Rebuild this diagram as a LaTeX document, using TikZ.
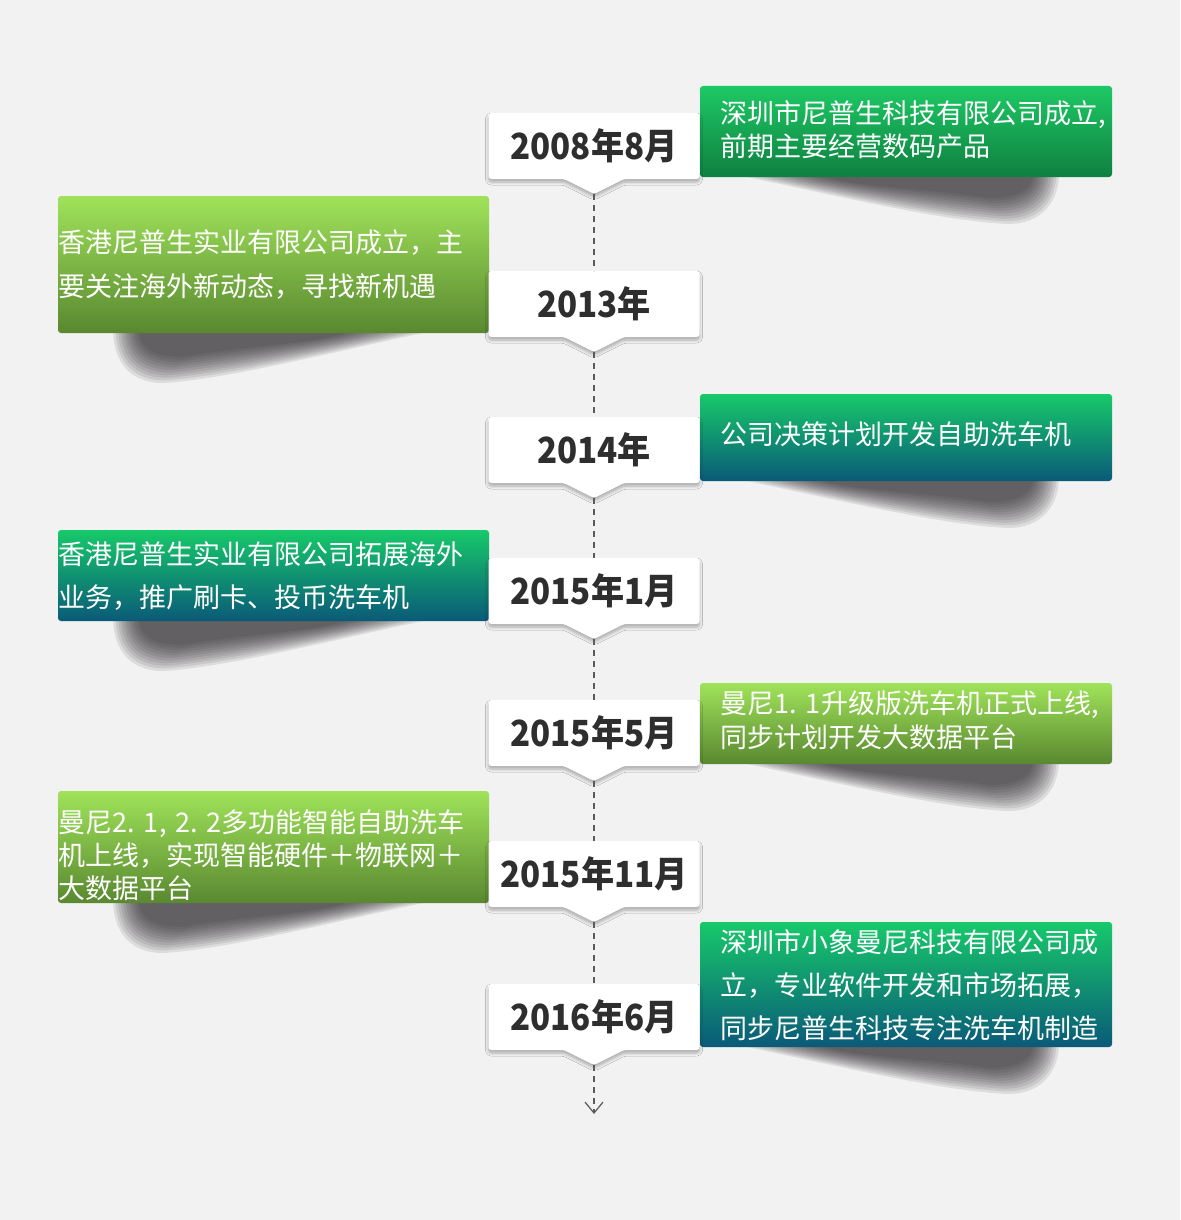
\documentclass[tikz,border=0pt]{standalone}
\usepackage{fontspec}
\setmainfont{Noto Sans CJK SC}
\usetikzlibrary{arrows.meta,shadows,shadows.blur}
\definecolor{bg}{HTML}{F2F2F2}
\definecolor{dtext}{HTML}{2E2E2E}
\definecolor{dashc}{HTML}{5A5A5A}
\definecolor{shc}{HTML}{2A2428}
\definecolor{gTop}{HTML}{1DC965}
\definecolor{gBot}{HTML}{0F8040}
\definecolor{tTop}{HTML}{17C96A}
\definecolor{tBot}{HTML}{0A5A78}
\definecolor{lTop}{HTML}{A0E35A}
\definecolor{lBot}{HTML}{598830}
\newcommand\hw[1]{\makebox[0.58em][c]{#1}}
\newcommand\hwl[1]{\makebox[0.58em][l]{#1}}
\tikzset{
  datebody/.style={fill=white, rounded corners=3pt,
    blur shadow={shadow xshift=0pt, shadow yshift=-3pt, shadow blur radius=3pt, shadow opacity=30, shadow blur steps=6}},
  datetext/.style={inner sep=0pt, text=dtext, font=\fontsize{36}{36}\selectfont\bfseries},
  cbox/.style={rectangle, rounded corners=3pt, inner sep=0pt, draw=none},
  rbox/.style={cbox, minimum width=412pt},
  lbox/.style={cbox, minimum width=431pt},
  gshade/.style={top color=gTop, bottom color=gBot},
  tshade/.style={top color=tTop, bottom color=tBot},
  lshade/.style={top color=lTop, bottom color=lBot},
  btext/.style={inner sep=0pt, anchor=west, align=left, text=white},
  dashline/.style={draw=dashc, line width=1.2pt, dash pattern=on 6pt off 5pt},
  shlayer/.style={fill=shc, opacity=0.1},
}
\newcommand\DateBox[4]{%
  \path[datebody] ({#2-105.5},{#3-33}) -- ({#2+105.5},{#3-33}) -- ({#2+105.5},{#3+33})
    -- ({#2+30},{#3+33}) -- (#2,{#3+48}) -- ({#2-30},{#3+33}) -- ({#2-105.5},{#3+33}) -- cycle;
  \node[datetext] (#1) at (#2,#3) {\scalebox{0.92}[1]{#4}};
  \coordinate (#1top) at (#2,{#3-33});
  \coordinate (#1tip) at (#2,{#3+48});
}
\newcommand\RShadow[1]{%
  \foreach \j in {0,...,10}{
    \fill[shlayer]
      ({728+9*\j},{#1-4}) -- ({1059-2.6*\j},{#1-4})
      .. controls ({1059-2.6*\j},{#1+22-\j}) and ({1044-2.6*\j},{#1+47-2.6*\j}) .. ({1008-2*\j},{#1+47-2.6*\j})
      .. controls (940,{#1+44-3.2*\j}) and (830,{#1+17-0.8*\j}) .. ({728+9*\j},{#1-4}) -- cycle;
  }
}
\newcommand\LShadow[1]{%
  \foreach \j in {0,...,10}{
    \fill[shlayer]
      ({442-9*\j},{#1-4}) -- ({113+2.6*\j},{#1-4})
      .. controls ({113+2.6*\j},{#1+24-\j}) and ({126+2.6*\j},{#1+50-2.6*\j}) .. ({163+2*\j},{#1+50-2.6*\j})
      .. controls (230,{#1+46-3.2*\j}) and (340,{#1+17-0.8*\j}) .. ({442-9*\j},{#1-4}) -- cycle;
  }
}
\begin{document}
\begin{tikzpicture}[x=1pt,y=-1pt]
\fill[bg] (0,0) rectangle (1180,1220);
\useasboundingbox (0,0) rectangle (1180,1220);

% curled shadows under the coloured boxes
\RShadow{177}
\LShadow{333}
\RShadow{481}
\LShadow{621}
\RShadow{764}
\LShadow{903}
\RShadow{1047}

% coloured boxes
\node[rbox, gshade, minimum height=91pt]  (r1) at (906,131.5) {};
\node[lbox, lshade, minimum height=137pt] (l1) at (273.5,264.5) {};
\node[rbox, tshade, minimum height=87pt]  (r2) at (906,437.5) {};
\node[lbox, tshade, minimum height=91pt]  (l2) at (273.5,575.5) {};
\node[rbox, lshade, minimum height=81pt]  (r3) at (906,723.5) {};
\node[lbox, lshade, minimum height=112pt] (l3) at (273.5,847) {};
\node[rbox, tshade, minimum height=125pt] (r4) at (906,984.5) {};

% texts of the coloured boxes
\node[btext, font=\fontsize{27}{33}\selectfont] (r1t) at (720,129.5)
  {深圳市尼普生科技有限公司成立,\\前期主要经营数码产品};
\node[btext, font=\fontsize{27}{44}\selectfont] (l1t) at (58,265)
  {香港尼普生实业有限公司成立，主\\要关注海外新动态，寻找新机遇};
\node[btext, font=\fontsize{27}{33}\selectfont] (r2t) at (720,434)
  {公司决策计划开发自助洗车机};
\node[btext, font=\fontsize{27}{43}\selectfont] (l2t) at (58,576.5)
  {香港尼普生实业有限公司拓展海外\\业务，推广刷卡、投币洗车机};
\node[btext, font=\fontsize{27}{34}\selectfont] (r3t) at (720,720)
  {曼尼\hw{1}\hwl{.}\hw{1}升级版洗车机正式上线,\\同步计划开发大数据平台};
\node[btext, font=\fontsize{27}{33}\selectfont] (l3t) at (58,855)
  {曼尼\hw{2}\hwl{.}\hw{1}\hwl{,}\hw{2}\hwl{.}\hw{2}多功能智能自助洗车\\机上线，实现智能硬件＋物联网＋\\大数据平台};
\node[btext, font=\fontsize{27}{43}\selectfont] (r4t) at (720,985)
  {深圳市小象曼尼科技有限公司成\\立，专业软件开发和市场拓展，\\同步尼普生科技专注洗车机制造};

% date boxes
\DateBox{d1}{594}{146}{2008年8月}
\DateBox{d2}{594}{304}{2013年}
\DateBox{d3}{594}{450}{2014年}
\DateBox{d4}{594}{591}{2015年1月}
\DateBox{d5}{594}{733}{2015年5月}
\DateBox{d6}{594}{874}{2015年11月}
\DateBox{d7}{594}{1017}{2016年6月}

% dashed timeline
\coordinate (end) at (594,1114);
\draw[dashline] (d1tip) -- (d2top);
\draw[dashline] (d2tip) -- (d3top);
\draw[dashline] (d3tip) -- (d4top);
\draw[dashline] (d4tip) -- (d5top);
\draw[dashline] (d5tip) -- (d6top);
\draw[dashline] (d6tip) -- (d7top);
\draw[dashline, -{Straight Barb[length=11pt,width=18pt,line width=1.2pt]}] (d7tip) -- (end);
\end{tikzpicture}
\end{document}
